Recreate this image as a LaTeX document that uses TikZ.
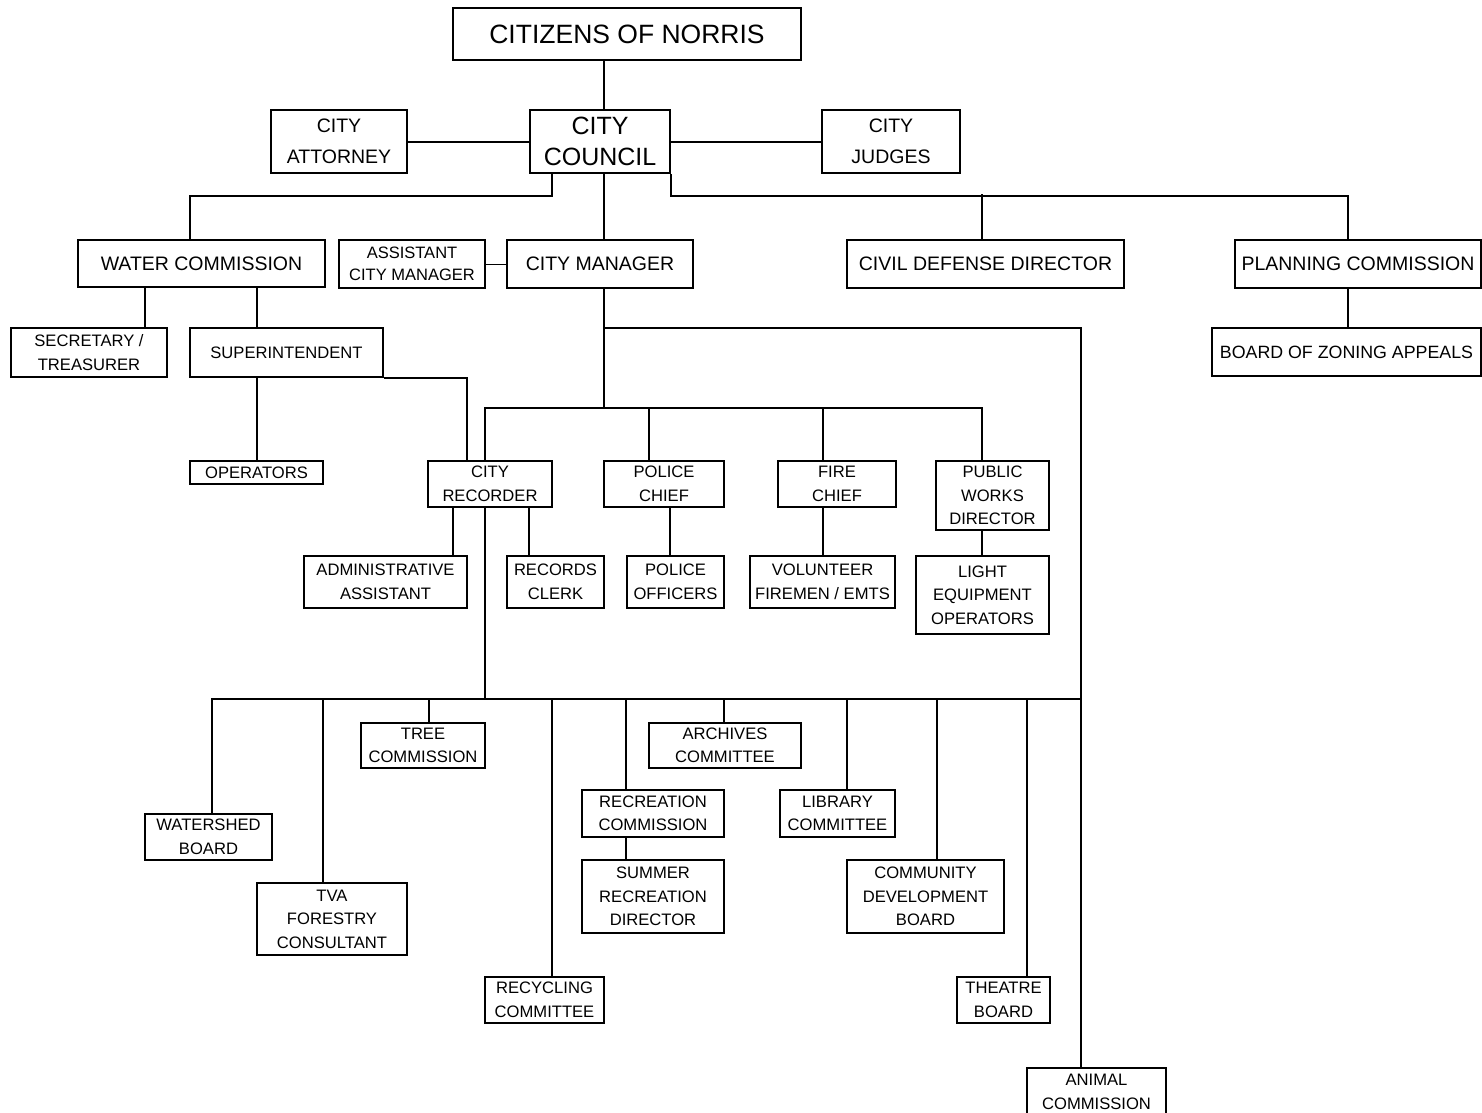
\documentclass[tikz,border=0pt]{standalone}
\usepackage{fontspec}
\setmainfont{Liberation Sans}

\begin{document}
\begin{tikzpicture}[x=1pt, y=-1pt, line width=2pt,
    box/.style={draw, align=center, inner sep=0pt},
    sz/.style 2 args={minimum width=#1, minimum height=#2},
    big/.style={font=\fontsize{25}{31}\selectfont},
    med/.style={font=\fontsize{19.5}{31}\selectfont},
    small/.style={font=\fontsize{16.6}{23.5}\selectfont},
    tiny/.style={font=\fontsize{16.5}{22}\selectfont}]
            \useasboundingbox (0,0) rectangle (1482,1112);

            % council level
            \node[box, big, sz={348pt}{52pt}, font=\fontsize{26.5}{31}\selectfont] (citizens) at (627,34) {CITIZENS OF NORRIS};
            \node[box, med, sz={136pt}{63pt}] (attorney) at (339,141.5) {CITY\\ATTORNEY};
            \node[box, big, sz={140pt}{63pt}] (council) at (600,141.5) {CITY\\COUNCIL};
            \node[box, med, sz={138pt}{63pt}] (judges) at (891,141.5) {CITY\\JUDGES};

            \node[box, med, sz={247pt}{47pt}] (water) at (201.5,263.5) {WATER COMMISSION};
            \node[box, tiny, sz={146pt}{48pt}] (asstmgr) at (412,264) {ASSISTANT\\CITY MANAGER};
            \node[box, med, sz={186pt}{48pt}] (manager) at (600,264) {CITY MANAGER};
            \node[box, med, sz={277pt}{48pt}] (civil) at (985.5,264) {CIVIL DEFENSE DIRECTOR};
            \node[box, med, sz={246pt}{48pt}] (planning) at (1358,264) {PLANNING COMMISSION};

            \node[box, small, sz={156pt}{49pt}] (secretary) at (89,352.5) {SECRETARY /\\TREASURER};
            \node[box, small, sz={193pt}{49pt}] (super) at (286.5,352.5) {SUPERINTENDENT};
            \node[box, small, sz={133pt}{23pt}] (operators) at (256.5,472.5) {OPERATORS};
            \node[box, sz={269pt}{48pt}, font=\fontsize{17.8}{31}\selectfont] (zoning) at (1346.5,352) {BOARD OF ZONING APPEALS};

            % departments
            \node[box, small, sz={124pt}{46pt}] (recorder) at (490,484) {CITY\\RECORDER};
            \node[box, small, sz={120pt}{46pt}] (police) at (664,484) {POLICE\\CHIEF};
            \node[box, small, sz={118pt}{46pt}] (fire) at (837,484) {FIRE\\CHIEF};
            \node[box, small, sz={113pt}{69pt}] (works) at (992.5,495.5) {PUBLIC\\WORKS\\DIRECTOR};

            \node[box, small, sz={163pt}{52pt}] (admin) at (385.5,582) {ADMINISTRATIVE\\ASSISTANT};
            \node[box, small, sz={97pt}{52pt}] (records) at (555.5,582) {RECORDS\\CLERK};
            \node[box, small, sz={97pt}{52pt}] (officers) at (675.5,582) {POLICE\\OFFICERS};
            \node[box, small, sz={145pt}{52pt}] (firemen) at (822.5,582) {VOLUNTEER\\FIREMEN / EMTS};
            \node[box, small, sz={133pt}{78pt}] (light) at (982.5,595) {LIGHT\\EQUIPMENT\\OPERATORS};

            % boards and committees
            \node[box, small, sz={127pt}{46pt}] (watershed) at (208.5,837) {WATERSHED\\BOARD};
            \node[box, small, sz={150pt}{72pt}] (tva) at (332,919) {TVA\\FORESTRY\\CONSULTANT};
            \node[box, small, sz={124pt}{45pt}] (tree) at (423,745.5) {TREE\\COMMISSION};
            \node[box, small, sz={119pt}{46pt}] (recycling) at (544.5,1000) {RECYCLING\\COMMITTEE};
            \node[box, small, sz={142pt}{47pt}] (recreation) at (653,813.5) {RECREATION\\COMMISSION};
            \node[box, small, sz={142pt}{73pt}] (summer) at (653,896.5) {SUMMER\\RECREATION\\DIRECTOR};
            \node[box, small, sz={152pt}{45pt}] (archives) at (725,745.5) {ARCHIVES\\COMMITTEE};
            \node[box, small, sz={115pt}{47pt}] (library) at (837.5,813.5) {LIBRARY\\COMMITTEE};
            \node[box, small, sz={157pt}{73pt}] (community) at (925.5,896.5) {COMMUNITY\\DEVELOPMENT\\BOARD};
            \node[box, small, sz={93pt}{46pt}] (theatre) at (1003.5,1000) {THEATRE\\BOARD};
            \node[box, small, sz={139pt}{48pt}] (animal) at (1096.5,1092) {ANIMAL\\COMMISSION};

            \coordinate (midbus) at (604,408);
            \coordinate (lowbus) at (485,699);

            % top
            \draw (citizens.south -| 604,0) -- (council.north -| 604,0);
            \draw (attorney) -- (council);
            \draw (council) -- (judges);
            \draw (council.south -| 552,0) -- ++(0,22) -| (water.north -| 190,0);
            \draw (council.south -| 604,0) -- (manager.north -| 604,0);
            \draw (council.south east) -- ++(0,22) -| (planning.north -| 1348,0);
            \draw (civil.north -| 982,0) -- ++(0,-45);
            \draw[line width=0.7pt] (asstmgr) -- (manager);

            % water commission
            \draw (water.south -| 145,0) -- (secretary.north -| 145,0);
            \draw (water.south -| 257,0) -- (super.north -| 257,0);
            \draw (super.south -| 257,0) -- (operators.north -| 257,0);
            \draw (super.south east) -| (recorder.north -| 467,0);
            \draw (planning.south -| 1348,0) -- (zoning.north -| 1348,0);

            % city manager
            \draw (manager.south -| midbus) -- (midbus);
            \draw (recorder.north -| lowbus) |- (midbus) -| (works.north -| 982,0);
            \draw (police.north -| 649,0) -- (midbus -| 649,0);
            \draw (fire.north -| 823,0) -- (midbus -| 823,0);
            \draw (manager.south -| midbus) ++(0,39) -| (animal.north -| 1081,0);

            \draw (recorder.south -| 453,0) -- (admin.north -| 453,0);
            \draw (recorder.south -| 529,0) -- (records.north -| 529,0);
            \draw (police.south -| 670,0) -- (officers.north -| 670,0);
            \draw (fire.south -| 823,0) -- (firemen.north -| 823,0);
            \draw (works.south -| 982,0) -- (light.north -| 982,0);

            % boards
            \draw (recorder.south -| lowbus) -- (lowbus);
            \draw (watershed.north -| 212,0) |- (lowbus) -- (lowbus -| 1081,0);
            \foreach \n/\x in {tva/323, tree/429, recycling/552, recreation/626,
                               archives/724, library/847, community/937, theatre/1027}
                \draw (\n.north -| \x,0) -- (lowbus -| \x,0);
            \draw (recreation.south -| 626,0) -- (summer.north -| 626,0);
        \end{tikzpicture}
\end{document}
